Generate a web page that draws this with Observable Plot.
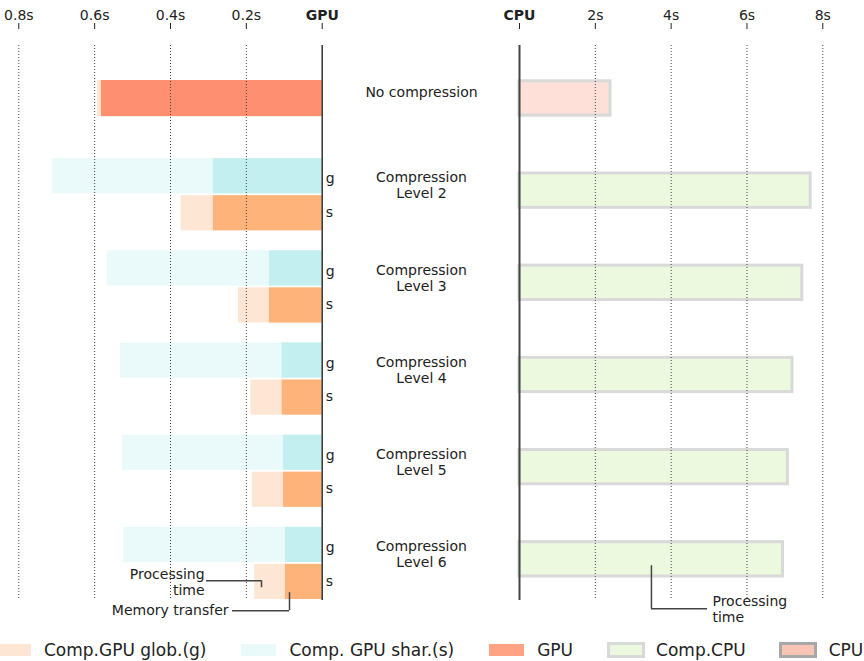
<!DOCTYPE html>
<html><head><meta charset="utf-8">
<script src="https://cdn.jsdelivr.net/npm/d3@7"></script>
<script src="https://cdn.jsdelivr.net/npm/@observablehq/plot@0.6"></script>
<style>
body{margin:0;background:#fff;font-family:"DejaVu Sans",sans-serif;}
#chart{position:relative;width:864px;height:661px;overflow:hidden;}
#chart svg{position:absolute;top:0;}
#legend{position:absolute;left:-4px;top:640px;display:flex;align-items:center;font-size:17px;color:#222;white-space:nowrap;}
#legend .it{display:flex;align-items:center;margin-right:35px;}
#legend .sw{width:35px;height:12.5px;margin-right:13px;box-sizing:border-box;}
#legend .sw.st{width:38px;height:15.5px;margin-left:-1.5px;margin-right:11.5px;border:3px solid #d9d9d9;}
</style></head><body><div id="chart"><div id="legend"></div></div><script>
// ---- data ----
const levels = ["No compression", "Compression Level 2", "Compression Level 3", "Compression Level 4", "Compression Level 5", "Compression Level 6"];
const levelLabels = ["No compression", "Compression\nLevel 2", "Compression\nLevel 3", "Compression\nLevel 4", "Compression\nLevel 5", "Compression\nLevel 6"];
const gpuNoComp = 0.582;          // GPU (no compression), seconds
const gpuNoCompProc = 0.593;      // processing sliver behind it
const compLevels = levels.slice(1);
const globTotal = [0.712, 0.567, 0.532, 0.527, 0.523];   // "g" rows (light cyan)
const sharTotal = [0.372, 0.221, 0.188, 0.184, 0.178];   // "s" rows (light peach)
const memTransfer = [0.287, 0.139, 0.1055, 0.102, 0.097]; // memory transfer part
const cpuTimes = [2.40, 7.68, 7.46, 7.20, 7.08, 6.95];    // CPU seconds
const gpuTicks = [0, 0.2, 0.4, 0.6, 0.8];
const gpuTickLabels = ["GPU", "0.2s", "0.4s", "0.6s", "0.8s"];
const cpuTicks = [0, 2, 4, 6, 8];
const cpuTickLabels = ["CPU", "2s", "4s", "6s", "8s"];
const rowLabels = ["g", "s"];
const annGpuProc = "Processing\ntime", annGpuMem = "Memory transfer", annCpuProc = "Processing\ntime";
const legendItems = ["Comp.GPU glob.(g)", "Comp. GPU shar.(s)", "GPU", "Comp.CPU", "CPU"];

// ---- colours ----
const C = {salmon:"#fe9071", peach:"#fee6d4", orange:"#feb37b", cyanL:"#eaf9f9", cyan:"#c4eff0",
  cpuNo:"#fee0d8", cpuComp:"#ecf9df", cpuStroke:"#d9d9d9", grid:"#444", ink:"#222"};

const comp = compLevels.map((level, i) => ({level, g: globTotal[i], s: sharTotal[i], t: memTransfer[i]}));
const noComp = [{level: levels[0], gpu: gpuNoComp, proc: gpuNoCompProc}];
const cpu = levels.map((level, i) => ({level, cpu: cpuTimes[i], label: levelLabels[i]}));
const lvl6 = levels[5];

const H = 625;
const yScale = {type: "band", domain: levels, range: [66, 600], paddingInner: 0.2065, paddingOuter: 0, round: false, axis: null};
const baseStyle = {fontFamily: "DejaVu Sans", fontSize: "14px", color: C.ink, background: "transparent", overflow: "visible"};
const lineSty = {stroke: "#444", strokeWidth: 1.5};

const left = Plot.plot({
  width: 345, height: H, marginTop: 28, marginBottom: 25,
  style: baseStyle,
  x: {domain: [0, 0.8], range: [321.7, 18.3], axis: "top", ticks: gpuTicks,
      tickFormat: d => gpuTickLabels[gpuTicks.indexOf(d)], tickSize: 6, tickPadding: 3, label: null},
  y: yScale,
  marks: [
    Plot.barX(noComp, {x1: 0, x2: "proc", y: "level", fill: C.peach, insetTop: 14, insetBottom: 23}),
    Plot.barX(noComp, {x1: 0, x2: "gpu", y: "level", fill: C.salmon, insetTop: 14, insetBottom: 23}),
    Plot.barX(comp, {x1: 0, x2: "g", y: "level", fill: C.cyanL, insetTop: 0, insetBottom: 38}),
    Plot.barX(comp, {x1: 0, x2: "t", y: "level", fill: C.cyan, insetTop: 0, insetBottom: 38}),
    Plot.barX(comp, {x1: 0, x2: "s", y: "level", fill: C.peach, insetTop: 37, insetBottom: 1}),
    Plot.barX(comp, {x1: 0, x2: "t", y: "level", fill: C.orange, insetTop: 37, insetBottom: 1}),
    Plot.ruleX(gpuTicks.slice(1), {stroke: C.grid, strokeDasharray: "1,2", insetTop: 17}),
    Plot.ruleX([0], {stroke: "#333", strokeWidth: 1.5, insetTop: 17}),
    Plot.text(comp, {x: 0, y: "level", text: () => rowLabels[0], dx: 3.5, dy: -16.25, textAnchor: "start"}),
    Plot.text(comp, {x: 0, y: "level", text: () => rowLabels[1], dx: 3.5, dy: 17.25, textAnchor: "start"}),
    // annotations
    Plot.ruleY([lvl6], {y: d => d, x1: 0.305, x2: 0.160, dy: 16.75, ...lineSty}),
    Plot.tickX([0.160], {x: d => d, y: () => lvl6, insetTop: 53.3, insetBottom: 12.8, ...lineSty}),
    Plot.text([annGpuProc], {x: () => 0.31, y: () => lvl6, text: d => d, textAnchor: "end", lineAnchor: "middle", lineHeight: 1.15, dy: 17.75}),
    Plot.ruleY([lvl6], {y: d => d, x1: 0.2365, x2: 0.0862, dy: 46.75, ...lineSty}),
    Plot.tickX([0.0862], {x: d => d, y: () => lvl6, insetTop: 65.3, insetBottom: -10.2, ...lineSty}),
    Plot.text([annGpuMem], {x: () => 0.247, y: () => lvl6, text: d => d, textAnchor: "end", lineAnchor: "middle", dy: 46.75})
  ]
});
left.style.left = "0px";

const right = Plot.plot({
  width: 524, height: H, marginTop: 28, marginBottom: 25,
  style: baseStyle,
  x: {domain: [0, 8], range: [179, 482.3], axis: "top", ticks: cpuTicks,
      tickFormat: d => cpuTickLabels[cpuTicks.indexOf(d)], tickSize: 6, tickPadding: 3, label: null},
  y: yScale,
  marks: [
    Plot.barX(cpu.slice(0, 1), {x1: 0, x2: "cpu", y: "level", fill: C.cpuNo, stroke: C.cpuStroke, strokeWidth: 3, insetTop: 14.8, insetBottom: 24}),
    Plot.barX(cpu.slice(1), {x1: 0, x2: "cpu", y: "level", fill: C.cpuComp, stroke: C.cpuStroke, strokeWidth: 3, insetTop: 14.8, insetBottom: 24}),
    Plot.ruleX(cpuTicks.slice(1), {stroke: C.grid, strokeDasharray: "1,2", insetTop: 17}),
    Plot.ruleX([0], {stroke: "#444", strokeWidth: 2, insetTop: 17}),
    Plot.text(cpu.slice(0, 1), {x: 0, y: "level", text: "label", dx: -98, dy: -11, textAnchor: "middle", lineAnchor: "middle"}),
    Plot.text(cpu.slice(1), {x: 0, y: "level", text: "label", dx: -98, dy: -10, textAnchor: "middle", lineAnchor: "middle", lineHeight: 1.15}),
    // annotation
    Plot.tickX([3.48], {x: d => d, y: () => lvl6, insetTop: 38.3, insetBottom: -8.2, ...lineSty}),
    Plot.ruleY([lvl6], {y: d => d, x1: 3.48, x2: 4.96, dy: 44.75, ...lineSty}),
    Plot.text([annCpuProc], {x: () => 5.09, y: () => lvl6, text: d => d, textAnchor: "start", lineAnchor: "middle", lineHeight: 1.15, dy: 45.25})
  ]
});
right.style.left = "340px";

for (const svg of [left, right]) {
  d3.select(svg).selectAll("text")
    .filter(function () { return this.textContent === "GPU" || this.textContent === "CPU"; })
    .attr("font-weight", "bold");
}

const chart = document.getElementById("chart");
chart.insertBefore(right, chart.firstChild);
chart.insertBefore(left, chart.firstChild);

// legend
const swatches = [
  {fill: C.peach}, {fill: C.cyanL}, {fill: "#ffa384"},
  {fill: C.cpuComp, stroke: C.cpuStroke}, {fill: "#fcc4b4", stroke: "#a8a8a8"}
];
const lg = d3.select("#legend");
legendItems.forEach((t, i) => {
  const it = lg.append("div").attr("class", "it");
  const sw = it.append("div").attr("class", "sw" + (swatches[i].stroke ? " st" : "")).style("background", swatches[i].fill);
  if (swatches[i].stroke) sw.style("border-color", swatches[i].stroke);
  it.append("span").text(t);
});
</script></body></html>
